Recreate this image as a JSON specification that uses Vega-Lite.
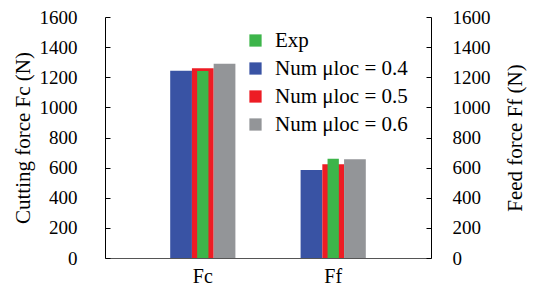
{
  "$schema": "https://vega.github.io/schema/vega-lite/v6.json",
  "width": 326,
  "height": 241,
  "autosize": {"type": "none"},
  "padding": {"left": 105, "top": 17, "right": 102, "bottom": 36},
  "background": "white",
  "config": {
    "view": {"stroke": null},
    "font": "Liberation Serif",
    "legend": {"labelFont": "Liberation Serif", "labelColor": "black", "labelFontSize": 21},
    "axis": {"labelFont": "Liberation Serif", "titleFont": "Liberation Serif", "labelColor": "black", "titleColor": "black", "titleFontWeight": "normal", "domainColor": "black", "tickColor": "black", "grid": false, "labelOverlap": false}
  },
  "data": {
    "values": [
      {"force": "Fc", "series": "Num μloc = 0.4", "slot": "0.4", "value": 1243},
      {"force": "Fc", "series": "Num μloc = 0.5", "slot": "0.5", "value": 1259},
      {"force": "Fc", "series": "Num μloc = 0.6", "slot": "0.6", "value": 1290},
      {"force": "Fc", "series": "Exp", "slot": "0.5", "value": 1241},
      {"force": "Ff", "series": "Num μloc = 0.4", "slot": "0.4", "value": 584},
      {"force": "Ff", "series": "Num μloc = 0.5", "slot": "0.5", "value": 622},
      {"force": "Ff", "series": "Num μloc = 0.6", "slot": "0.6", "value": 655},
      {"force": "Ff", "series": "Exp", "slot": "0.5", "value": 659}
    ]
  },
  "encoding": {
    "x": {
      "field": "force", "type": "nominal", "sort": ["Fc", "Ff"],
      "scale": {"paddingInner": 0.5, "paddingOuter": 0.5},
      "axis": {"title": null, "labelAngle": 0, "labelFont": "Liberation Serif", "labelFontSize": 20, "ticks": false, "labelPadding": 8, "domainColor": "#555555"}
    },
    "color": {
      "field": "series", "type": "nominal",
      "scale": {"domain": ["Exp", "Num μloc = 0.4", "Num μloc = 0.5", "Num μloc = 0.6"], "range": ["#3db54a", "#3953a4", "#ed1c24", "#939598"]},
      "legend": {"orient": "none", "legendX": 140, "legendY": 13, "title": null, "symbolType": "square", "symbolSize": 150, "symbolStrokeWidth": 0, "labelFontSize": 21, "labelFont": "Liberation Serif", "labelFontWeight": "normal", "labelColor": "black", "rowPadding": 6, "labelOffset": 9}
    }
  },
  "layer": [
    {
      "transform": [{"filter": "datum.series !== 'Exp'"}],
      "mark": {"type": "bar"},
      "encoding": {
        "xOffset": {"field": "slot", "type": "nominal", "sort": ["0.4", "0.5", "0.6"], "scale": {"paddingInner": 0, "paddingOuter": 0}},
        "y": {"field": "value", "type": "quantitative", "scale": {"domain": [0, 1600]},
          "axis": {"title": "Cutting force Fc (N)", "titleFontSize": 21, "labelFont": "Liberation Serif", "labelFontSize": 19, "format": "d", "values": [0,200,400,600,800,1000,1200,1400,1600], "tickSize": -5, "labelPadding": 33, "titlePadding": 6}}
      }
    },
    {
      "transform": [{"filter": "datum.series === 'Exp'"}],
      "mark": {"type": "bar"},
      "encoding": {
        "xOffset": {"field": "slot", "type": "nominal", "scale": {"domain": ["0.4", "0.5", "0.6"], "paddingInner": 0.48, "paddingOuter": 0.24}},
        "y": {"field": "value", "type": "quantitative", "scale": {"domain": [0, 1600]},
          "axis": {"orient": "right", "title": "Feed force Ff (N)", "titleFontSize": 21, "labelFont": "Liberation Serif", "labelFontSize": 19, "format": "d", "values": [0,200,400,600,800,1000,1200,1400,1600], "tickSize": -5, "labelPadding": 26, "titlePadding": 14, "titleAngle": 270, "titleBaseline": "top"}}
      }
    }
  ],
  "resolve": {"scale": {"y": "independent", "xOffset": "independent"}, "axis": {"y": "independent"}}
}
